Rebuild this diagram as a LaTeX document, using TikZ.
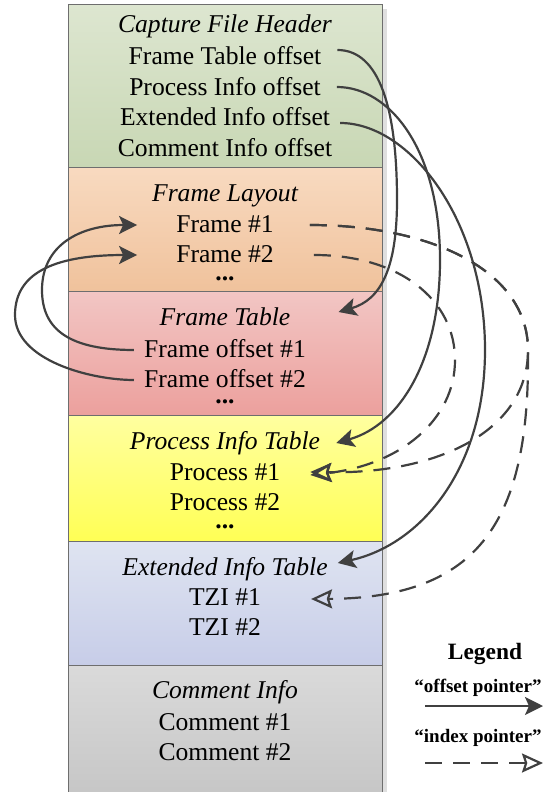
\documentclass[tikz,border=0pt]{standalone}
\usepackage{fontspec}
\setmainfont{Liberation Serif}
\usepackage{tikz}
\usetikzlibrary{arrows.meta,calc}

\definecolor{hdrtop}{RGB}{221,230,208}
\definecolor{hdrbot}{RGB}{200,215,180}
\definecolor{laytop}{RGB}{248,218,192}
\definecolor{laybot}{RGB}{240,194,156}
\definecolor{tabtop}{RGB}{242,198,196}
\definecolor{tabbot}{RGB}{236,160,157}
\definecolor{prctop}{RGB}{255,255,160}
\definecolor{prcbot}{RGB}{255,255,85}
\definecolor{exttop}{RGB}{223,228,241}
\definecolor{extbot}{RGB}{199,205,232}
\definecolor{cmttop}{RGB}{218,218,218}
\definecolor{cmtbot}{RGB}{198,198,198}
\definecolor{edge}{RGB}{110,110,110}
\definecolor{ptr}{RGB}{64,64,64}

\tikzset{
  txt/.style={anchor=base,inner sep=0pt,font=\fontsize{25.6}{30}\selectfont},
  ttl/.style={txt,font=\fontsize{25.6}{30}\selectfont\itshape},
  dotrow/.style={txt,font=\fontsize{25.6}{30}\selectfont\bfseries},
  lgd/.style={anchor=base,inner sep=0pt,font=\fontsize{19}{23}\selectfont\bfseries},
  offptr/.style={draw=ptr,line width=2.2pt,-{Stealth[length=18pt,width=18pt,inset=4pt]}},
  idxptr/.style={draw=ptr,line width=2.2pt,dash pattern=on 17pt off 11pt,
    -{Stealth[open,length=21pt,width=19pt,inset=3pt]}}
}

\begin{document}
\begin{tikzpicture}[x=1pt,y=-1pt]
  \useasboundingbox (0,0) rectangle (555,792);

  % sections of the file
  \fill[gray!25] (382,9) rectangle (387,795);
  \foreach \ya/\yb/\ct/\cb in {5/167/hdrtop/hdrbot, 167/291/laytop/laybot,
      291/415/tabtop/tabbot, 415/541/prctop/prcbot, 541/665/exttop/extbot,
      665/796/cmttop/cmtbot} {
    \shadedraw[top color=\ct,bottom color=\cb,draw=edge,line width=1pt]
      (68,\ya) rectangle (382,\yb);
  }

  \node[ttl] (hdr) at (225,33) {Capture File Header};
  \node[txt] (fto) at (225,64) {Frame Table offset};
  \node[txt] (pio) at (225,95) {Process Info offset};
  \node[txt] (eio) at (225,125) {Extended Info offset};
  \node[txt] (cio) at (225,156) {Comment Info offset};

  \node[ttl] (lay) at (225,201) {Frame Layout};
  \node[txt] (fr1) at (225,232) {Frame \#1};
  \node[txt] (fr2) at (225,262) {Frame \#2};
  \node[dotrow] (laydots) at (225,280) {...};

  \node[ttl] (ftab) at (225,325) {Frame Table};
  \node[txt] (fo1) at (225,357) {Frame offset \#1};
  \node[txt] (fo2) at (225,387) {Frame offset \#2};
  \node[dotrow] (tabdots) at (225,403) {...};

  \node[ttl] (pit) at (225,449) {Process Info Table};
  \node[txt] (pr1) at (225,480) {Process \#1};
  \node[txt] (pr2) at (225,510) {Process \#2};
  \node[dotrow] (prcdots) at (225,528) {...};

  \node[ttl] (eit) at (225,575) {Extended Info Table};
  \node[txt] (tz1) at (225,605) {TZI \#1};
  \node[txt] (tz2) at (225,635) {TZI \#2};

  \node[ttl] (cit) at (225,698) {Comment Info};
  \node[txt] (cm1) at (225,730) {Comment \#1};
  \node[txt] (cm2) at (225,760) {Comment \#2};

  % offset pointers
  \draw[offptr] ($(fto.base east)+(16,-14)$) .. controls (380,50) and (397,110) .. (397,200)
    .. controls (397,270) and (380,300) .. ($(ftab.base east)+(48,-13)$);
  \draw[offptr] ($(pio.base east)+(16,-8)$) .. controls (390,87) and (440,150) .. (440,260)
    .. controls (440,360) and (400,425) .. ($(pit.base east)+(16,-6)$);
  \draw[offptr] ($(eio.base east)+(10,-2)$) .. controls (410,123) and (485,220) .. (485,350)
    .. controls (485,470) and (420,545) .. ($(eit.base east)+(10,-12)$);
  \draw[offptr] ($(fo1.base west)+(-10,-7)$) .. controls (70,350) and (42,330) .. (42,290)
    .. controls (42,245) and (80,225) .. ($(fr1.base west)+(-39,-7)$);
  \draw[offptr] ($(fo2.base west)+(-10,-7)$) .. controls (90,380) and (15,360) .. (15,315)
    .. controls (15,270) and (60,255) .. ($(fr2.base west)+(-39,-7)$);

  % index pointers
  \draw[idxptr] ($(fr1.base east)+(36,-7)$) .. controls (430,225) and (528,270) .. (528,350)
    .. controls (528,430) and (440,474) .. ($(pr1.base east)+(30,-8)$);
  \draw[idxptr] ($(fr1.base east)+(36,-7)$) .. controls (430,225) and (528,270) .. (528,350)
    .. controls (530,520) and (480,598) .. ($(tz1.base east)+(50,-6)$);
  \draw[idxptr] ($(fr2.base east)+(40,-7)$) .. controls (400,255) and (455,300) .. (455,360)
    .. controls (455,420) and (400,465) .. ($(pr1.base east)+(30,-5)$);

  % legend
  \node[anchor=base,inner sep=0pt,font=\fontsize{23.4}{28}\selectfont\bfseries] (leg) at (485,659) {Legend};
  \node[lgd] (lgoff) at (478,692) {“offset pointer”};
  \coordinate (offa) at (425,706);
  \coordinate (offb) at (543,706);
  \draw[offptr] (offa) -- (offb);
  \node[lgd] (lgidx) at (478,742) {“index pointer”};
  \coordinate (idxa) at (425,763);
  \coordinate (idxb) at (543,763);
  \draw[idxptr] (idxa) -- (idxb);
\end{tikzpicture}
\end{document}
